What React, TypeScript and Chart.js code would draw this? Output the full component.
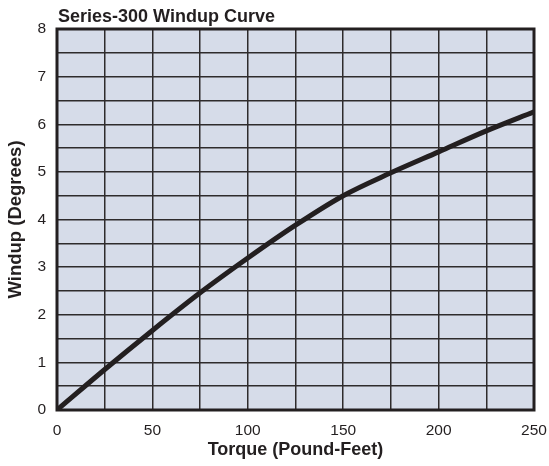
import React, { useEffect, useRef } from "react";
import { Chart, registerables } from "chart.js";

Chart.register(...registerables);

const torque = [0, 25, 50, 75, 100, 125, 150, 175, 200, 225, 250];
const windup = [0, 0.85, 1.67, 2.46, 3.19, 3.88, 4.5, 4.98, 5.42, 5.86, 6.26];
const titleText = "Series-300 Windup Curve";
const xTitle = "Torque (Pound-Feet)";
const yTitle = "Windup (Degrees)";

const FONT = "'Liberation Sans', Arial, Helvetica, sans-serif";
const DARK = "#231f20";

export default function App() {
  const ref = useRef<HTMLCanvasElement>(null);
  useEffect(() => {
    const bgPlugin = {
      id: "bgPlugin",
      beforeDraw(chart: any) {
        const { ctx, chartArea: a } = chart;
        ctx.save();
        ctx.fillStyle = "#ffffff";
        ctx.fillRect(0, 0, chart.width, chart.height);
        ctx.fillStyle = "#d6dce9";
        ctx.fillRect(a.left, a.top, a.right - a.left, a.bottom - a.top);
        ctx.restore();
      },
      afterDraw(chart: any) {
        const { ctx, chartArea: a } = chart;
        ctx.save();
        ctx.strokeStyle = DARK;
        ctx.lineWidth = 3;
        ctx.strokeRect(a.left, a.top, a.right - a.left, a.bottom - a.top);
        ctx.fillStyle = DARK;
        ctx.font = `bold 18px ${FONT}`;
        ctx.textBaseline = "alphabetic";
        ctx.textAlign = "left";
        ctx.fillText(titleText, a.left + 1, 22);
        ctx.restore();
      },
    };
    const chart = new Chart(ref.current!, {
      type: "line",
      data: {
        datasets: [
          {
            data: torque.map((t, i) => ({ x: t, y: windup[i] })),
            borderColor: DARK,
            borderWidth: 5,
            pointRadius: 0,
            cubicInterpolationMode: "monotone",
            fill: false,
          },
        ],
      },
      options: {
        animation: false,
        responsive: true,
        maintainAspectRatio: false,
        layout: { padding: { top: 29, right: 15, left: 0, bottom: 0 } },
        plugins: { legend: { display: false }, tooltip: { enabled: false } },
        scales: {
          x: {
            type: "linear",
            min: 0,
            max: 250,
            afterFit(s: any) {
              s.height = 56;
              s.paddingRight = 0;
              s.paddingLeft = 0;
            },
            ticks: {
              stepSize: 25,
              padding: 11,
              color: DARK,
              font: { family: FONT, size: 15.5 },
              maxRotation: 0,
              autoSkip: false,
              callback: (v: any) => (Number(v) % 50 === 0 ? String(v) : ""),
            },
            grid: { color: "#2e2b2c", lineWidth: 1.5, drawTicks: false },
            border: { display: false },
            title: {
              display: true,
              text: xTitle,
              color: DARK,
              font: { family: FONT, size: 18, weight: "bold" },
              padding: { top: 0, bottom: 5 },
            },
          },
          y: {
            type: "linear",
            min: 0,
            max: 8,
            afterFit(s: any) {
              s.width = 57;
              s.paddingTop = 0;
              s.paddingBottom = 0;
            },
            ticks: {
              stepSize: 0.5,
              padding: 11,
              color: DARK,
              font: { family: FONT, size: 15.5 },
              autoSkip: false,
              callback: (v: any) => (Number(v) % 1 === 0 ? String(v) : ""),
            },
            grid: { color: "#2e2b2c", lineWidth: 1.5, drawTicks: false },
            border: { display: false },
            title: {
              display: true,
              text: yTitle,
              color: DARK,
              font: { family: FONT, size: 18.5, weight: "bold" },
              padding: { top: 5, bottom: 0 },
            },
          },
        },
      },
      plugins: [bgPlugin],
    } as any);
    return () => chart.destroy();
  }, []);
  return (
    <div style={{ position: "fixed", left: 0, top: 0, width: 549, height: 466 }}>
      <canvas ref={ref} />
    </div>
  );
}
